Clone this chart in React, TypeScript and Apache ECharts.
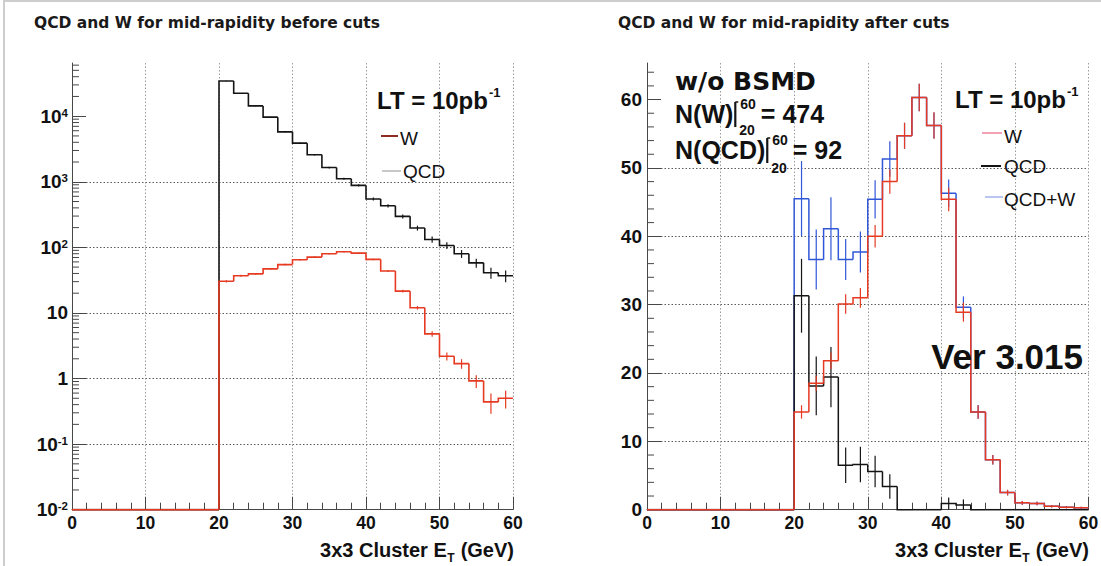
import React, { useEffect, useRef } from "react";
import * as echarts from "echarts";

// ---------------- data ----------------
const binEdges = [0, 2, 4, 6, 8, 10, 12, 14, 16, 18, 20, 22, 24, 26, 28, 30, 32, 34, 36, 38, 40, 42, 44, 46, 48, 50, 52, 54, 56, 58, 60];

// left panel: before cuts (log scale)
const qcdBefore = [0, 0, 0, 0, 0, 0, 0, 0, 0, 0, 34400, 22400, 14350, 9660, 5770, 3880, 2580, 1650, 1110, 880, 546, 431, 297, 197, 132, 107, 80, 58, 41, 37];
const qcdBeforeErr = [0, 0, 0, 0, 0, 0, 0, 0, 0, 0, 227, 183, 147, 120, 93, 76, 62, 50, 41, 36, 29, 25, 21, 17, 14, 13, 11, 9.3, 7.8, 7.5];
const wBefore = [0, 0, 0, 0, 0, 0, 0, 0, 0, 0, 30.4, 37, 39.4, 47, 54.6, 64.7, 71, 80, 85.7, 81.7, 65.5, 43.5, 21.5, 12.0, 4.8, 2.19, 1.69, 0.92, 0.44, 0.5];
const wBeforeErr = [0, 0, 0, 0, 0, 0, 0, 0, 0, 0, 1.17, 1.29, 1.33, 1.45, 1.57, 1.7, 1.79, 1.9, 1.96, 1.92, 1.72, 1.4, 0.98, 0.73, 0.46, 0.31, 0.28, 0.2, 0.15, 0.15];

// right panel: after cuts (linear scale)
const wAfter = [0, 0, 0, 0, 0, 0, 0, 0, 0, 0, 14.3, 18.5, 21.8, 30.1, 31.0, 40.0, 48.0, 54.7, 60.3, 56.2, 45.4, 28.9, 14.3, 7.3, 2.5, 1.0, 0.9, 0.5, 0.35, 0.3];
const wAfterErr = [0, 0, 0, 0, 0, 0, 0, 0, 0, 0, 0.98, 1.11, 1.21, 1.42, 1.44, 1.64, 1.79, 1.91, 2.01, 1.94, 1.74, 1.39, 0.98, 0.7, 0.41, 0.26, 0.25, 0.18, 0.15, 0.14];
const qcdAfter = [0, 0, 0, 0, 0, 0, 0, 0, 0, 0, 31.3, 18.1, 19.4, 6.5, 6.6, 5.6, 3.4, 0, 0, 0, 0.9, 0.7, 0, 0, 0, 0, 0, 0, 0, 0];
const qcdAfterErr = [0, 0, 0, 0, 0, 0, 0, 0, 0, 0, 5.4, 4.3, 4.4, 2.6, 2.6, 2.3, 1.8, 0, 0, 0, 0.9, 0.8, 0, 0, 0, 0, 0, 0, 0, 0];
const sumAfter = [0, 0, 0, 0, 0, 0, 0, 0, 0, 0, 45.5, 36.6, 41.1, 36.6, 37.7, 45.4, 51.3, 54.7, 60.3, 56.2, 46.3, 29.6, 14.3, 7.3, 2.5, 1.0, 0.9, 0.5, 0.35, 0.3];
const sumAfterErr = [0, 0, 0, 0, 0, 0, 0, 0, 0, 0, 5.5, 4.4, 4.6, 3.0, 3.0, 2.8, 2.6, 1.9, 2.0, 1.9, 2.0, 1.6, 1.0, 0.7, 0.4, 0.26, 0.25, 0.18, 0.15, 0.14];

// axes
const xTickValues = [0, 10, 20, 30, 40, 50, 60];
const logMajorTicks = [0.01, 0.1, 1, 10, 100, 1000, 10000];
const linMajorTicks = [0, 10, 20, 30, 40, 50, 60];
const linMinorTicks = [2, 4, 6, 8, 12, 14, 16, 18, 22, 24, 26, 28, 32, 34, 36, 38, 42, 44, 46, 48, 52, 54, 56, 58, 62, 64];
const logMin = 0.01;
const logMax = 64700;
const linMax = 65.35;

// texts
const titleBefore = "QCD and W for mid-rapidity before cuts";
const titleAfter = "QCD and W for mid-rapidity after cuts";
const xTitleMain = "3x3 Cluster E";
const xTitleSub = "T";
const xTitleUnit = " (GeV)";
const lumiText = "LT = 10pb";
const lumiSup = "-1";
const nW = "474";
const nQCD = "92";

const RED = "#e63a22";
const BLUE = "#3057d8";
const BLACK = "#141414";
const AX = "#474747";
const LIB = "'Liberation Sans', Arial, sans-serif";
const DEJ = "'DejaVu Sans', sans-serif";

function logMinorTicks(): number[] {
  const out: number[] = [];
  for (let d = -2; d <= 4; d++) {
    for (let k = 2; k <= 9; k++) {
      const v = k * Math.pow(10, d);
      if (v < logMax) out.push(v);
    }
  }
  return out;
}

function histData(values: number[], errors: number[]) {
  return values.map((v, i) => [binEdges[i], binEdges[i + 1], v, errors[i], i > 0 ? values[i - 1] : 0]);
}

function histRender(color: string, yMin: number, width: number) {
  return (params: any, api: any) => {
    const lo = api.value(0);
    const hi = api.value(1);
    const v = api.value(2);
    const e = api.value(3);
    const pv = api.value(4);
    const c = (y: number) => Math.max(y, yMin);
    const a = api.coord([lo, c(pv)]);
    const b = api.coord([lo, c(v)]);
    const d = api.coord([hi, c(v)]);
    const children: any[] = [
      { type: "polyline", shape: { points: [a, b, d] }, style: { stroke: color, lineWidth: width, fill: null } },
    ];
    if (e > 0 && v > 0) {
      const mid = (lo + hi) / 2;
      const t = api.coord([mid, c(v + e)]);
      const u = api.coord([mid, c(v - e)]);
      children.push({ type: "line", shape: { x1: t[0], y1: t[1], x2: u[0], y2: u[1] }, style: { stroke: color, lineWidth: 1.2 } });
    }
    return { type: "group", children };
  };
}

function tickSeries(idx: number, values: number[], len: number) {
  return {
    type: "custom",
    xAxisIndex: idx,
    yAxisIndex: idx,
    silent: true,
    z: 1,
    data: values.map((v) => [0, v]),
    encode: { x: 0, y: 1 },
    renderItem: (params: any, api: any) => {
      const p = api.coord([0, api.value(1)]);
      return { type: "line", shape: { x1: p[0], y1: p[1], x2: p[0] + len, y2: p[1] }, style: { stroke: AX, lineWidth: 1 } };
    },
  };
}

export default function App() {
  const ref = useRef<HTMLDivElement>(null);

  useEffect(() => {
    if (!ref.current) return;
    const chart = echarts.init(ref.current, undefined, { renderer: "svg" });

    const ctx = document.createElement("canvas").getContext("2d")!;
    const measure = (text: string, font: string) => {
      ctx.font = font;
      return ctx.measureText(text).width;
    };

    const g: any[] = [];
    const txt = (text: string, x: number, y: number, size: number, opts: any = {}) => {
      g.push({
        type: "text",
        silent: true,
        z: 100,
        style: {
          text,
          x,
          y,
          fill: opts.fill || "#111",
          fontSize: size,
          fontWeight: opts.weight || "bold",
          fontFamily: opts.family || LIB,
          align: opts.align || "left",
          verticalAlign: "middle",
        },
      });
    };
    const seg = (x1: number, y1: number, x2: number, y2: number, color: string, w = 2) => {
      g.push({ type: "line", silent: true, z: 100, shape: { x1, y1, x2, y2 }, style: { stroke: color, lineWidth: w } });
    };

    // page border
    g.push({ type: "rect", silent: true, shape: { x: 4, y: 1, width: 1300, height: 700 }, style: { fill: null, stroke: "#cdcdcd", lineWidth: 2 } });

    // titles
    txt(titleBefore, 34, 23, 15.5, { family: DEJ, fill: "#1a1a1a" });
    txt(titleAfter, 618, 23, 15.5, { family: DEJ, fill: "#1a1a1a" });

    // x-axis titles (right aligned at axis end)
    const xTitle = (xEnd: number) => {
      const fMain = `bold 20px ${LIB}`;
      const fSub = `bold 12px ${LIB}`;
      const wUnit = measure(xTitleUnit, fMain);
      const wSub = measure(xTitleSub, fSub);
      const xUnit = xEnd - wUnit;
      const xSub = xUnit - wSub - 0.5;
      txt(xTitleUnit, xUnit, 550, 20);
      txt(xTitleSub, xSub, 557.5, 12);
      txt(xTitleMain, xSub - 0.5, 550, 20, { align: "right" });
    };
    xTitle(514);
    xTitle(1089);

    // luminosity labels
    const lumi = (x: number, y: number) => {
      const w = measure(lumiText, `bold 24px ${LIB}`);
      txt(lumiText, x, y, 24);
      txt(lumiSup, x + w + 1, y - 7.5, 13);
    };
    lumi(377, 100);
    lumi(955, 99);

    // left legend
    seg(381, 136, 398, 136, "#8e2b22", 2);
    txt("W", 400, 138, 19, { weight: "normal" });
    seg(382, 171, 401, 171, "#c8c8c8", 2);
    txt("QCD", 403, 171, 19, { weight: "normal" });

    // right legend
    seg(982, 133, 1002, 133, "#f2a3b6", 2);
    txt("W", 1004, 136, 19, { weight: "normal" });
    seg(981, 166, 1001, 166, BLACK, 2);
    txt("QCD", 1004, 166, 19, { weight: "normal" });
    seg(985, 197, 1003, 197, "#b9c6f2", 2);
    txt("QCD+W", 1004, 199, 19, { weight: "normal" });

    // w/o BSMD block
    txt("w/o BSMD", 675, 81, 25, { family: DEJ });
    const nLine = (label: string, value: string, y: number, supY: number, subY: number) => {
      const f = `bold 25px ${LIB}`;
      const w = measure(label, f);
      txt(label, 675, y, 25);
      const bx = 675 + w + 2;
      seg(bx, y - 12, bx, y + 13, BLACK, 2.2);
      seg(bx, y - 12, bx + 3, y - 12, BLACK, 1.5);
      const fs = `bold 14px ${LIB}`;
      const ws = measure("60", fs);
      txt("60", bx + 5, supY, 14);
      txt("20", bx + 4, subY, 14);
      txt("= " + value, bx + 5 + ws + 5, y, 25);
    };
    nLine("N(W)", nW, 114, 104, 129.5);
    nLine("N(QCD)", nQCD, 150, 139.5, 167.5);

    // version label
    txt("Ver 3.015", 1083, 356, 35, { align: "right" });

    const logLabel = (v: number) => {
      const e = Math.round(Math.log10(v));
      if (e === 0) return "{b|1}";
      if (e === 1) return "{b|10}";
      return `{b|10}{s|${e}}`;
    };

    const xAxisCommon = (gridIndex: number) => ({
      type: "value",
      gridIndex,
      min: 0,
      max: 60,
      interval: 10,
      axisLine: { show: true, onZero: false, lineStyle: { color: AX, width: 1 } },
      axisTick: { show: true, inside: true, length: 13, lineStyle: { color: AX, width: 1 } },
      minorTick: { show: true, splitNumber: 5, length: 7, lineStyle: { color: AX, width: 1 } },
      axisLabel: {
        margin: 4,
        color: "#111",
        fontFamily: LIB,
        fontWeight: "bold",
        fontSize: 17.5,
        customValues: xTickValues,
      },
      splitLine: { show: true, lineStyle: { color: "#9a9a9a", type: [1.5, 2], width: 1 } },
    });

    const option: any = {
      animation: false,
      backgroundColor: "#ffffff",
      grid: [
        { left: 72, top: 63, width: 441, height: 446.7, containLabel: false, outerBoundsMode: "none" },
        { left: 647, top: 63, width: 441.5, height: 446.7, containLabel: false, outerBoundsMode: "none" },
      ],
      xAxis: [xAxisCommon(0), xAxisCommon(1)],
      yAxis: [
        {
          type: "log",
          logBase: 10,
          gridIndex: 0,
          min: logMin,
          max: logMax,
          splitNumber: 7,
          axisLine: { show: true, lineStyle: { color: AX, width: 1 } },
          axisTick: { show: true, inside: true, length: 14, lineStyle: { color: AX, width: 1 }, customValues: logMajorTicks },
          axisLabel: {
            margin: 4,
            customValues: logMajorTicks,
            formatter: logLabel,
            rich: {
              b: { fontFamily: LIB, fontWeight: "bold", fontSize: 19, color: "#111" },
              s: { fontFamily: LIB, fontWeight: "bold", fontSize: 11.5, color: "#111", verticalAlign: "top" },
            },
          },
          splitLine: { show: true, showMaxLine: false, lineStyle: { color: "#5a5a5a", type: [1.5, 2], width: 1 } },
        },
        {
          type: "value",
          gridIndex: 1,
          min: 0,
          max: linMax,
          interval: 10,
          axisLine: { show: true, lineStyle: { color: AX, width: 1 } },
          axisTick: { show: true, inside: true, length: 14, lineStyle: { color: AX, width: 1 }, customValues: linMajorTicks },
          axisLabel: {
            margin: 5,
            customValues: linMajorTicks,
            color: "#111",
            fontFamily: LIB,
            fontWeight: "bold",
            fontSize: 19,
          },
          splitLine: { show: true, showMaxLine: false, lineStyle: { color: "#5a5a5a", type: [1.5, 2], width: 1 } },
        },
      ],
      graphic: { elements: g },
      series: [
        tickSeries(0, logMinorTicks(), 7),
        tickSeries(1, linMinorTicks, 7),
        {
          type: "custom",
          name: "QCD",
          xAxisIndex: 0,
          yAxisIndex: 0,
          silent: true,
          z: 3,
          encode: { x: [0, 1], y: [2] },
          data: histData(qcdBefore, qcdBeforeErr),
          renderItem: histRender(BLACK, logMin, 1.6),
        },
        {
          type: "custom",
          name: "W",
          xAxisIndex: 0,
          yAxisIndex: 0,
          silent: true,
          z: 4,
          encode: { x: [0, 1], y: [2] },
          data: histData(wBefore, wBeforeErr),
          renderItem: histRender(RED, logMin, 1.6),
        },
        {
          type: "custom",
          name: "QCD+W",
          xAxisIndex: 1,
          yAxisIndex: 1,
          silent: true,
          z: 2,
          encode: { x: [0, 1], y: [2] },
          data: histData(sumAfter, sumAfterErr),
          renderItem: histRender(BLUE, 0, 1.5),
        },
        {
          type: "custom",
          name: "QCD",
          xAxisIndex: 1,
          yAxisIndex: 1,
          silent: true,
          z: 3,
          encode: { x: [0, 1], y: [2] },
          data: histData(qcdAfter, qcdAfterErr),
          renderItem: histRender(BLACK, 0, 1.5),
        },
        {
          type: "custom",
          name: "W",
          xAxisIndex: 1,
          yAxisIndex: 1,
          silent: true,
          z: 4,
          encode: { x: [0, 1], y: [2] },
          data: histData(wAfter, wAfterErr),
          renderItem: histRender(RED, 0, 1.5),
        },
      ],
    };

    chart.setOption(option);
    return () => chart.dispose();
  }, []);

  return <div ref={ref} style={{ position: "absolute", left: 0, top: 0, width: 1101, height: 566, background: "#fff" }} />;
}
